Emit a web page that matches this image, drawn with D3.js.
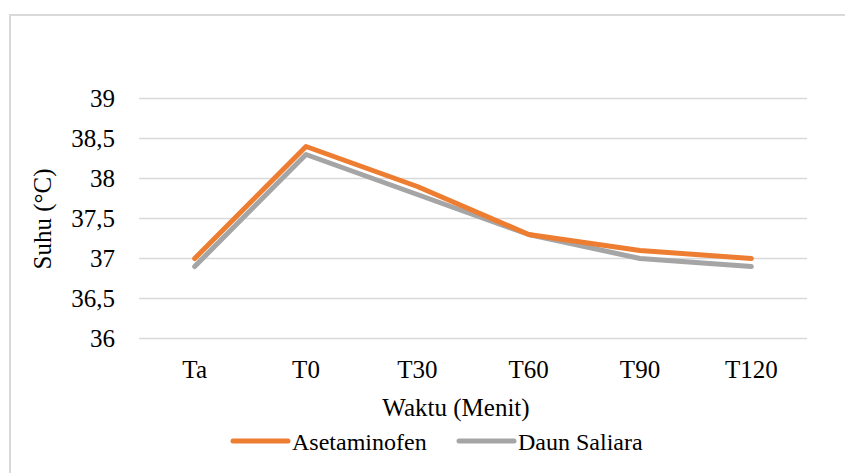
<!DOCTYPE html>
<html><head><meta charset="utf-8">
<script src="https://cdn.jsdelivr.net/npm/d3@7"></script>
</head><body style="margin:0">
<svg id="chart" width="845" height="473"></svg>
<script>
const categories = ["Ta", "T0", "T30", "T60", "T90", "T120"];
const asetaminofen = [37.0, 38.4, 37.9, 37.3, 37.1, 37.0];
const daunSaliara = [36.9, 38.3, 37.8, 37.3, 37.0, 36.9];
const yTicks = [36, 36.5, 37, 37.5, 38, 38.5, 39];
const seriesNames = ["Asetaminofen", "Daun Saliara"];
const seriesColors = ["#ED7D31", "#A5A5A5"];

const svg = d3.select("#chart");
function serif(sel, size) {
  return sel.attr("style", `font-family:"Liberation Serif","Times New Roman",Times !important;font-size:${size}px !important`).attr("fill", "#000");
}

// chart border
svg.append("rect").attr("x", 10).attr("y", 15).attr("width", 900).attr("height", 500)
  .attr("fill", "none").attr("stroke", "#D9D9D9").attr("stroke-width", 2);

const x = d3.scaleBand().domain(categories).range([139, 807]);
const y = d3.scaleLinear().domain([36, 39]).range([338.5, 98.5]);

// gridlines
svg.append("g").selectAll("line").data(yTicks).join("line")
  .attr("x1", 139).attr("x2", 807)
  .attr("y1", d => y(d)).attr("y2", d => y(d))
  .attr("stroke", "#D9D9D9").attr("stroke-width", 1.5);

// y axis
const yAxis = svg.append("g").attr("transform", "translate(139,0)")
  .call(d3.axisLeft(y).tickValues(yTicks).tickSize(0).tickPadding(24)
    .tickFormat(d => String(d).replace(".", ",")));
yAxis.select(".domain").remove();
serif(yAxis.selectAll("text"), 25);

// x axis
const xAxis = svg.append("g").attr("transform", "translate(0,338.5)")
  .call(d3.axisBottom(x).tickSize(0).tickPadding(22));
xAxis.select(".domain").remove();
serif(xAxis.selectAll("text"), 25);

// lines
const line = d3.line().x((d, i) => x(categories[i]) + x.bandwidth() / 2).y(d => y(d));
[daunSaliara, asetaminofen].forEach((s, k) => {
  svg.append("path").datum(s).attr("d", line)
    .attr("fill", "none").attr("stroke", k === 0 ? seriesColors[1] : seriesColors[0])
    .attr("stroke-width", 5).attr("stroke-linecap", "round").attr("stroke-linejoin", "round");
});

// axis titles
serif(svg.append("text").attr("x", 456).attr("y", 416).attr("text-anchor", "middle"), 25).text("Waktu (Menit)");
serif(svg.append("text").attr("transform", "translate(51,219) rotate(-90)").attr("text-anchor", "middle"), 25).text("Suhu (°C)");

// legend
const legendX = [233, 459];
seriesNames.forEach((n, i) => {
  const g = svg.append("g");
  g.append("line").attr("x1", legendX[i]).attr("x2", legendX[i] + 55).attr("y1", 441).attr("y2", 441)
    .attr("stroke", seriesColors[i]).attr("stroke-width", 5).attr("stroke-linecap", "round");
  serif(g.append("text").attr("x", legendX[i] + 59).attr("y", 450), 24).text(n);
});
</script>
</body></html>
